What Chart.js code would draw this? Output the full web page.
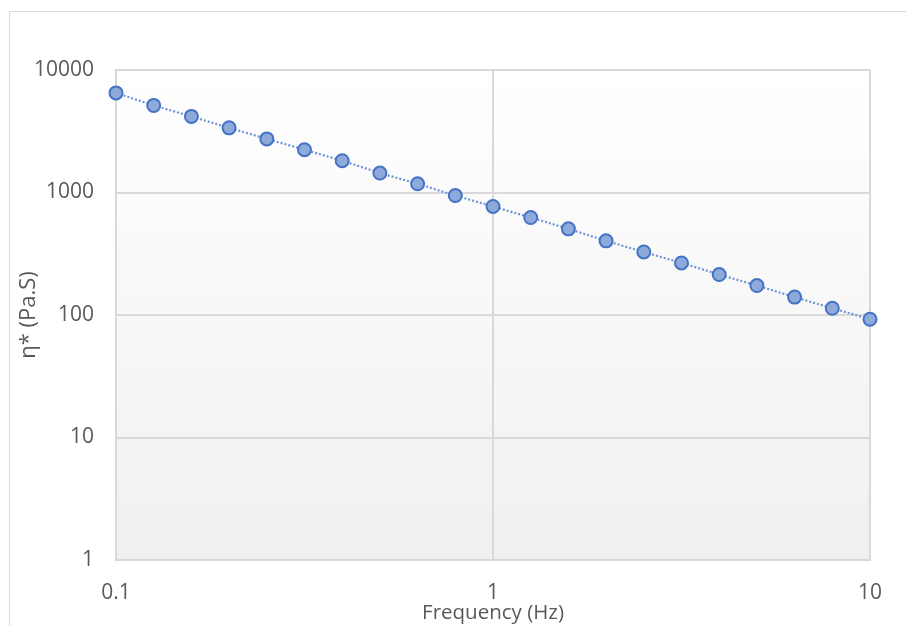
<!DOCTYPE html>
<html>
<head>
<meta charset="utf-8">
<title>Complex viscosity vs frequency</title>
<script src="https://cdn.jsdelivr.net/npm/chart.js@4/dist/chart.umd.min.js"></script>
<style>
  html, body { margin: 0; padding: 0; background: #fff; overflow: hidden; }
  #wrap { position: relative; width: 906px; height: 626px; }
  #frame {
    position: absolute; left: 9px; top: 11px; width: 940px; height: 660px;
    border: 1px solid #d9d9d9; box-sizing: border-box;
  }
  canvas { position: absolute; left: 0; top: 0; }
</style>
</head>
<body>
<div id="wrap">
  <div id="frame"></div>
  <canvas id="chart" width="906" height="626"></canvas>
</div>
<script>
'use strict';

// ── Data ──────────────────────────────────────────────────────────────────
const FREQ_HZ = [0.1, 0.1259, 0.1585, 0.1995, 0.2512, 0.3162, 0.3981, 0.5012, 0.631, 0.7943,
                 1, 1.259, 1.585, 1.995, 2.512, 3.162, 3.981, 5.012, 6.31, 7.943, 10];
const ETA_PAS = [6500, 5140, 4180, 3370, 2740, 2235, 1817, 1442, 1178, 944,
                 769, 625, 505, 403, 327, 266, 214, 174, 140, 113.5, 92.3];
const X_TICKS = [0.1, 1, 10];
const Y_TICKS = [1, 10, 100, 1000, 10000];

// ── Styling ───────────────────────────────────────────────────────────────
const COL_TEXT   = '#595959';
const COL_GRID   = '#d9d9d9';
const COL_MARKER = '#8eaadb';
const COL_EDGE   = '#4472c4';
const FONT       = "'Open Sans', sans-serif";

// Plot area fill: white fading to light grey at the bottom
const plotBackground = {
  id: 'plotBackground',
  beforeDraw(chart) {
    const { ctx, chartArea: a } = chart;
    const g = ctx.createLinearGradient(0, a.top, 0, a.bottom);
    g.addColorStop(0, '#ffffff');
    g.addColorStop(1, '#f0f0f0');
    ctx.save();
    ctx.fillStyle = g;
    ctx.fillRect(a.left, a.top, a.right - a.left, a.bottom - a.top);
    ctx.restore();
  },
};

const fixTicks = values => scale => { scale.ticks = values.map(v => ({ value: v })); };

new Chart(document.getElementById('chart'), {
  type: 'scatter',
  data: {
    datasets: [{
      label: 'η*',
      data: FREQ_HZ.map((f, i) => ({ x: f, y: ETA_PAS[i] })),
      showLine: true,
      borderColor: '#6f93d6',
      borderWidth: 2.2,
      borderDash: [2, 2],
      pointRadius: 6.5,
      pointBackgroundColor: COL_MARKER,
      pointBorderColor: COL_EDGE,
      pointBorderWidth: 2,
      clip: false,
    }],
  },
  plugins: [plotBackground],
  options: {
    responsive: false,
    animation: false,
    layout: { padding: { top: 70, right: 36, left: 0, bottom: 0 } },
    plugins: { legend: { display: false }, tooltip: { enabled: false } },
    scales: {
      x: {
        type: 'logarithmic',
        min: 0.1, max: 10,
        afterBuildTicks: fixTicks(X_TICKS),
        afterFit: s => { s.height = 66; },
        ticks: { color: COL_TEXT, font: { family: FONT, size: 21 }, padding: 20, maxRotation: 0,
                 callback: v => String(v) },
        grid: { color: COL_GRID, lineWidth: 2, drawTicks: false },
        border: { color: COL_GRID, width: 2 },
        title: { display: true, text: 'Frequency (Hz)', color: COL_TEXT,
                 font: { family: FONT, size: 20.5 }, padding: { top: 0, bottom: 1 } },
      },
      y: {
        type: 'logarithmic',
        min: 1, max: 10000,
        afterBuildTicks: fixTicks(Y_TICKS),
        afterFit: s => { s.width = 116; },
        ticks: { color: COL_TEXT, font: { family: FONT, size: 21 }, padding: 22,
                 callback: v => String(v) },
        grid: { color: COL_GRID, lineWidth: 2, drawTicks: false },
        border: { color: COL_GRID, width: 2 },
        title: { display: true, text: 'η* (Pa.S)', color: COL_TEXT,
                 font: { family: FONT, size: 22 }, padding: { top: 16, bottom: 0 } },
      },
    },
  },
});
</script>
</body>
</html>
